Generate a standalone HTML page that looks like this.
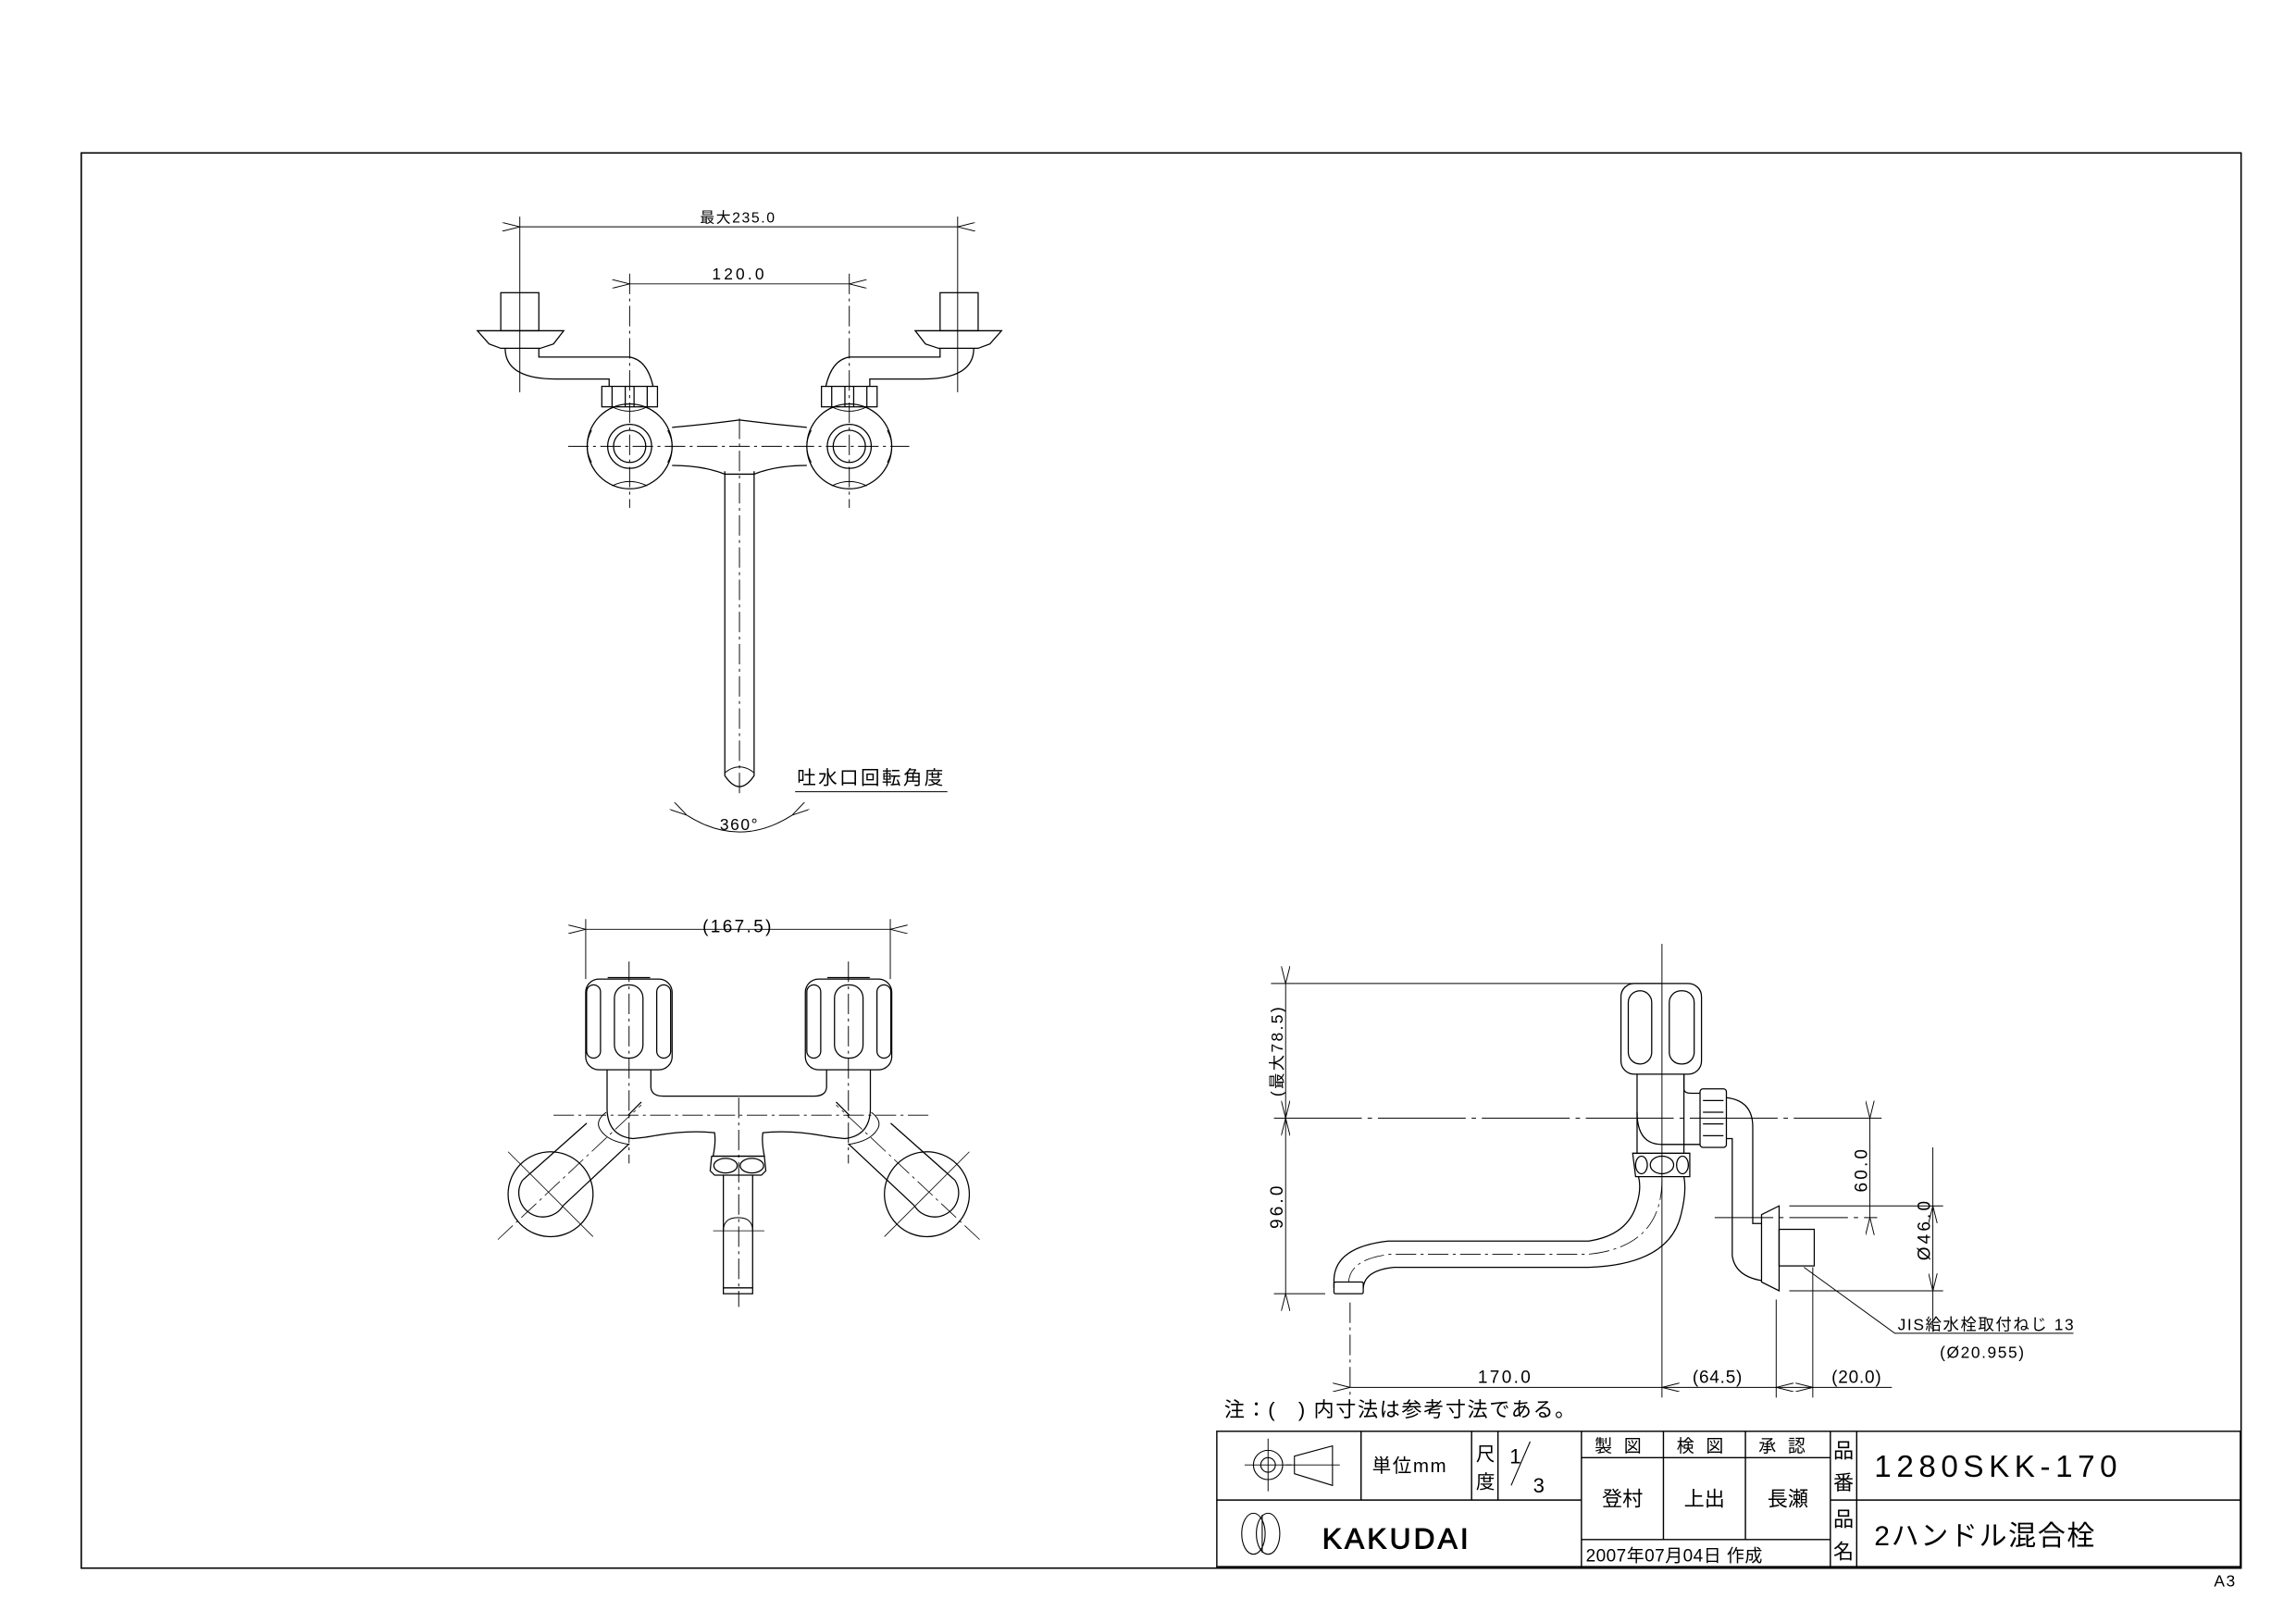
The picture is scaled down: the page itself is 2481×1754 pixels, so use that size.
<!DOCTYPE html>
<html><head><meta charset="utf-8"><style>
html,body{margin:0;padding:0;background:#fff}
svg{display:block}
text{font-family:"Liberation Sans","Noto Sans CJK JP",sans-serif;fill:#000}
</style></head><body>
<svg width="2481" height="1754" viewBox="0 0 1568 1109" preserveAspectRatio="none" xmlns="http://www.w3.org/2000/svg">
<defs>
<marker id="a" viewBox="0 0 12 6" refX="0" refY="3" markerWidth="12" markerHeight="6" markerUnits="userSpaceOnUse" orient="auto-start-reverse">
<path d="M12,0 L0,3 L12,6" fill="none" stroke="#000" stroke-width="0.6"/>
</marker>
</defs>
<g fill="none" stroke="#000" stroke-width="0.8">
<rect x="55.5" y="104.5" width="1475" height="967" stroke-width="1"/>

<!-- ===== TOP VIEW ===== -->
<g>
<line x1="355" y1="155" x2="654" y2="155" marker-start="url(#a)" marker-end="url(#a)" stroke-width="0.6"/>
<line x1="355" y1="148" x2="355" y2="268" stroke-width="0.6"/>
<line x1="654" y1="148" x2="654" y2="268" stroke-width="0.6"/>
<line x1="430" y1="194" x2="580" y2="194" marker-start="url(#a)" marker-end="url(#a)" stroke-width="0.6"/>
<line x1="430" y1="187" x2="430" y2="347" stroke-width="0.6" stroke-dasharray="14 3 2 3"/>
<line x1="580" y1="187" x2="580" y2="347" stroke-width="0.6" stroke-dasharray="14 3 2 3"/>
<line x1="388" y1="305" x2="621" y2="305" stroke-width="0.6" stroke-dasharray="14 3 2 3"/>
<line x1="505" y1="286" x2="505" y2="545" stroke-width="0.6" stroke-dasharray="14 3 2 3"/>
<g id="tl">
<rect x="342" y="200" width="26" height="26"/>
<path d="M326,226 L385,226 L378,235 L369,238 L342,238 L334,235 Z"/>
<path d="M345,238 Q345,259 380,259 L416,259 L416,264"/>
<path d="M368,238 L368,244 L430,244 Q442,246 446,264"/>
<rect x="411" y="264" width="38" height="14"/>
<line x1="418" y1="264" x2="418" y2="278"/><line x1="427" y1="264" x2="427" y2="278"/><line x1="433" y1="264" x2="433" y2="278"/><line x1="442" y1="264" x2="442" y2="278"/>
<circle cx="430" cy="305" r="29"/>
<circle cx="430" cy="305" r="15"/>
<circle cx="430" cy="305" r="11"/>
<path d="M418,278 Q430,284 442,278 M456,294 Q462,305 456,316 M418,332 Q430,326 442,332 M404,294 Q398,305 404,316" stroke-width="0.6"/>
</g>
<use href="#tl" transform="translate(1010,0) scale(-1,1)"/>
<path d="M459,292 Q482,290 505,287 Q528,290 551,292"/>
<path d="M459,318 Q480,318 495,324 L515,324 Q530,318 551,318"/>
<path d="M495,322 L495,530 Q505,545 515,530 L515,322"/>
<path d="M495,528 Q505,520 515,528" stroke-width="0.6"/>
<line x1="543" y1="541" x2="647" y2="541" stroke-width="0.6"/>
<path d="M469,557 Q505,580 541,557" stroke-width="0.6" marker-start="url(#a)" marker-end="url(#a)"/>
</g>

<!-- ===== FRONT VIEW ===== -->
<g>
<line x1="400" y1="635" x2="608" y2="635" marker-start="url(#a)" marker-end="url(#a)" stroke-width="0.6"/>
<line x1="400" y1="628" x2="400" y2="669" stroke-width="0.6"/>
<line x1="608" y1="628" x2="608" y2="669" stroke-width="0.6"/>
<line x1="378" y1="762" x2="637" y2="762" stroke-width="0.6" stroke-dasharray="14 3 2 3"/>
<line x1="504.5" y1="750" x2="504.5" y2="893" stroke-width="0.6" stroke-dasharray="14 3 2 3"/>
<g id="fl">
<line x1="429.6" y1="657" x2="429.6" y2="795" stroke-width="0.6" stroke-dasharray="14 3 2 3"/>
<rect x="400" y="669" width="59" height="62" rx="9"/>
<line x1="415" y1="668" x2="444" y2="668"/>
<rect x="400.6" y="673" width="9.5" height="50" rx="4.7"/>
<rect x="419.6" y="673" width="19.5" height="50" rx="9"/>
<rect x="448.5" y="673" width="9.5" height="50" rx="4.7"/>
<path d="M414.6,731 L414.6,758 Q415,776 432,778 Q442,777 447,776"/>
<path d="M444.5,731 L444.5,743 Q445,749 453,749 L504.5,749"/>
<path d="M414,760 Q406,766 410,772 Q415,780 430,782" stroke-width="0.6"/>
<path d="M447,776 Q470,772 488,774 Q489,780 487,790 L504.5,790"/>
<path d="M400.7,767.5 L356.8,806.5"/>
<path d="M438,753 L429,762 M429.6,781.6 L384.6,823.8"/>
<path d="M356.8,806.5 A13,13 0 0 0 384.6,823.8" />
<circle cx="376" cy="816" r="29"/>
<line x1="347" y1="787" x2="405" y2="845" stroke-width="0.5"/>
<line x1="340" y1="847" x2="438" y2="755" stroke-width="0.5" stroke-dasharray="14 3 2 3"/>
</g>
<use href="#fl" transform="translate(1009,0) scale(-1,1)"/>
<path d="M486,790 L522,790 L523,800 L520,803 L488,803 L485,800 Z"/>
<ellipse cx="495.5" cy="796.5" rx="8" ry="5"/>
<ellipse cx="513.5" cy="796.5" rx="8" ry="5"/>
<path d="M494,803 L494,884 L514,884 L514,803"/>
<line x1="494" y1="880" x2="514" y2="880"/>
<path d="M494,841 Q494,832 504,832 Q514,832 514,841" stroke-width="0.6"/>
<line x1="487" y1="841" x2="522" y2="841" stroke-width="0.5"/>
</g>

<!-- ===== SIDE VIEW ===== -->
<g>
<line x1="868" y1="672" x2="1135" y2="672" stroke-width="0.6"/>
<line x1="878" y1="672" x2="878" y2="764" marker-start="url(#a)" marker-end="url(#a)" stroke-width="0.6"/>
<line x1="878" y1="764" x2="878" y2="884" marker-start="url(#a)" marker-end="url(#a)" stroke-width="0.6"/>
<line x1="870" y1="764" x2="1285" y2="764" stroke-width="0.6" stroke-dasharray="60 4 3 4"/>
<line x1="870" y1="884" x2="905" y2="884" stroke-width="0.6"/>
<line x1="1135" y1="645" x2="1135" y2="955" stroke-width="0.6"/>
<rect x="1107" y="672" width="55" height="62" rx="9"/>
<rect x="1112" y="677" width="16" height="50" rx="8"/>
<rect x="1140" y="677" width="17" height="50" rx="8"/>
<path d="M1118,734 L1118,788 M1150,734 L1150,788"/>
<path d="M1118,760 Q1118,782 1135,782 L1161,782" />
<path d="M1150,734 L1150,744 Q1150,747 1155,747 L1161,747"/>
<rect x="1161" y="744" width="18" height="40" rx="2"/>
<line x1="1163" y1="752" x2="1177" y2="752"/><line x1="1163" y1="760" x2="1177" y2="760"/><line x1="1163" y1="768" x2="1177" y2="768"/><line x1="1163" y1="776" x2="1177" y2="776"/>
<path d="M1179,750 Q1197,752 1197,770 L1197,836 L1203,836"/>
<path d="M1179,778 L1183,778 L1183,858 Q1185,872 1203,875"/>
<path d="M1203,830 L1215,824 L1215,882 L1203,876 Z"/>
<rect x="1215" y="840" width="24" height="25"/>
<line x1="1171" y1="832" x2="1282" y2="832" stroke-width="0.6" stroke-dasharray="40 4 3 4"/>
<path d="M1115,788 L1154,788 L1154,804 L1117,804 Z" />
<ellipse cx="1121" cy="796" rx="4" ry="6"/><ellipse cx="1135" cy="796" rx="8" ry="6"/><ellipse cx="1149" cy="796" rx="4" ry="6"/>
<path d="M1119,804 Q1121,812 1118,822 Q1112,844 1085,848 L948,848 Q912,852 911,874 L911,880"/>
<path d="M1150,804 Q1152,814 1148,830 Q1140,864 1085,866 L952,866 Q932,868 931,880"/>
<path d="M1135,806 Q1135,852 1085,857 L950,857 Q922,860 921,876" stroke-width="0.5" stroke-dasharray="14 3 2 3"/>
<rect x="911" y="876" width="20" height="8" rx="1"/>
<line x1="922" y1="890" x2="922" y2="955" stroke-width="0.6" stroke-dasharray="14 3 2 3"/>
<line x1="1213" y1="888" x2="1213" y2="955" stroke-width="0.6"/>
<line x1="1238" y1="866" x2="1238" y2="955" stroke-width="0.6"/>
<line x1="922" y1="948" x2="1135" y2="948" marker-start="url(#a)" marker-end="url(#a)" stroke-width="0.6"/>
<line x1="1135" y1="948" x2="1213" y2="948" marker-end="url(#a)" stroke-width="0.6"/>
<line x1="1238" y1="948" x2="1292" y2="948" marker-start="url(#a)" stroke-width="0.6"/>
<line x1="1213" y1="948" x2="1238" y2="948" stroke-width="0.6"/>
<line x1="1277" y1="764" x2="1277" y2="832" marker-start="url(#a)" marker-end="url(#a)" stroke-width="0.6"/>
<line x1="1222" y1="824" x2="1327" y2="824" stroke-width="0.6"/>
<line x1="1222" y1="882" x2="1327" y2="882" stroke-width="0.6"/>
<line x1="1320" y1="784" x2="1320" y2="824" marker-end="url(#a)" stroke-width="0.6"/>
<line x1="1320" y1="824" x2="1320" y2="882" stroke-width="0.6"/>
<line x1="1320" y1="910" x2="1320" y2="882" marker-end="url(#a)" stroke-width="0.6"/>
<path d="M1232,866 L1294,911 L1416,911" stroke-width="0.6"/>
</g>

<!-- ===== TITLE BLOCK ===== -->
<g stroke-width="0.9">
<rect x="831" y="978" width="699" height="93"/>
<line x1="831" y1="1071" x2="1530" y2="1071" stroke-width="2"/>
<line x1="831" y1="1025" x2="1080" y2="1025"/>
<line x1="1250" y1="1025" x2="1530" y2="1025"/>
<line x1="1080" y1="996" x2="1250" y2="996"/>
<line x1="1080" y1="1052" x2="1250" y2="1052"/>
<line x1="929.5" y1="978" x2="929.5" y2="1025"/>
<line x1="1005" y1="978" x2="1005" y2="1025"/>
<line x1="1023" y1="978" x2="1023" y2="1025"/>
<line x1="1080" y1="978" x2="1080" y2="1071"/>
<line x1="1136" y1="978" x2="1136" y2="1052"/>
<line x1="1192" y1="978" x2="1192" y2="1052"/>
<line x1="1250" y1="978" x2="1250" y2="1071"/>
<line x1="1268" y1="978" x2="1268" y2="1071"/>
<circle cx="866" cy="1001" r="10" stroke-width="0.7"/>
<circle cx="866" cy="1001" r="5" stroke-width="0.7"/>
<line x1="850" y1="1001" x2="882" y2="1001" stroke-width="0.6"/>
<line x1="866" y1="983" x2="866" y2="1019" stroke-width="0.6"/>
<path d="M884,995 L910,988 L910,1015 L884,1007 Z" stroke-width="0.7"/>
<line x1="878" y1="1001" x2="915" y2="1001" stroke-width="0.6"/>
<line x1="1032" y1="1015" x2="1045" y2="985" stroke-width="0.7"/>
<ellipse cx="856" cy="1048" rx="8" ry="14" stroke-width="0.7"/>
<ellipse cx="866" cy="1048" rx="8" ry="14" stroke-width="0.7"/>
<line x1="862" y1="1035" x2="862" y2="1061" stroke-width="0.7"/>
</g>
</g>

<g font-size="11">
<text x="504" y="152" text-anchor="middle" font-size="10" letter-spacing="1">最大235.0</text>
<text x="505" y="191" text-anchor="middle" font-size="11" letter-spacing="2">120.0</text>
<text x="595" y="536" text-anchor="middle" font-size="13" letter-spacing="1.5">吐水口回転角度</text>
<text x="505" y="567" text-anchor="middle" font-size="11" letter-spacing="1">360°</text>
<text x="504" y="637" text-anchor="middle" font-size="12" letter-spacing="1.5">(167.5)</text>
<text transform="translate(876,718) rotate(-90)" text-anchor="middle" font-size="11" letter-spacing="1.5">(最大78.5)</text>
<text transform="translate(876,824) rotate(-90)" text-anchor="middle" font-size="12" letter-spacing="2">96.0</text>
<text transform="translate(1275,799) rotate(-90)" text-anchor="middle" font-size="12" letter-spacing="2">60.0</text>
<text transform="translate(1318,840) rotate(-90)" text-anchor="middle" font-size="12" letter-spacing="2">Ø46.0</text>
<text x="1028" y="945" text-anchor="middle" font-size="12" letter-spacing="1.5">170.0</text>
<text x="1173" y="945" text-anchor="middle" font-size="12" letter-spacing="0.5">(64.5)</text>
<text x="1268" y="945" text-anchor="middle" font-size="12" letter-spacing="0.5">(20.0)</text>
<text x="1296" y="909" font-size="11" letter-spacing="1">JIS給水栓取付ねじ 13</text>
<text x="1354" y="928" text-anchor="middle" font-size="11" letter-spacing="1">(Ø20.955)</text>
<text x="836" y="968" font-size="14" letter-spacing="1">注：(　) 内寸法は参考寸法である。</text>
<text x="937" y="1006" font-size="13" letter-spacing="1">単位mm</text>
<text x="1008" y="998" font-size="13">尺</text>
<text x="1008" y="1017" font-size="13">度</text>
<text x="1031" y="1000" font-size="14">1</text>
<text x="1047" y="1020" font-size="14">3</text>
<text x="1089" y="992" font-size="12" letter-spacing="8">製図</text>
<text x="1145" y="992" font-size="12" letter-spacing="8">検図</text>
<text x="1201" y="992" font-size="12" letter-spacing="8">承認</text>
<text x="1108" y="1029" text-anchor="middle" font-size="14">登村</text>
<text x="1164" y="1029" text-anchor="middle" font-size="14">上出</text>
<text x="1221" y="1029" text-anchor="middle" font-size="14">長瀬</text>
<text x="1083" y="1067" font-size="12" letter-spacing="0.3">2007年07月04日 作成</text>
<text x="1252" y="996" font-size="14">品</text>
<text x="1252" y="1018" font-size="14">番</text>
<text x="1252" y="1043" font-size="14">品</text>
<text x="1252" y="1065" font-size="14">名</text>
<text x="1280" y="1009" font-size="21" letter-spacing="3.5">1280SKK-170</text>
<text x="1280" y="1056" font-size="19" letter-spacing="1">2ハンドル混合栓</text>
<text x="903" y="1058" font-size="20" letter-spacing="2" fill="none" stroke="#000" stroke-width="0.6">KAKUDAI</text>
<text x="1512" y="1084" font-size="11" letter-spacing="1">A3</text>
</g>
</svg>
</body></html>
